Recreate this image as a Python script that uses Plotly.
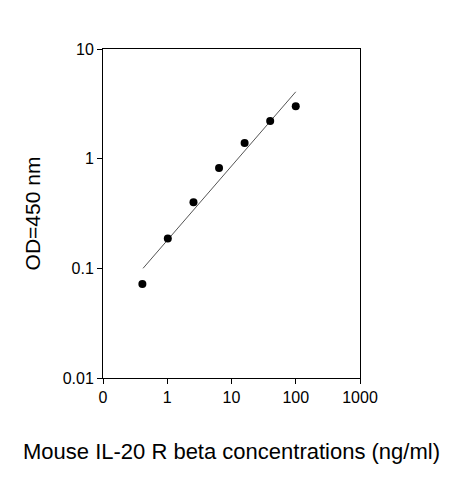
import plotly.graph_objects as go

conc = [0.41, 1.02, 2.56, 6.4, 16, 40, 100]
od = [0.072, 0.187, 0.40, 0.82, 1.39, 2.21, 3.01]
fit_x = [0.42, 100]
fit_y = [0.1, 4.07]

x_ticks = [0.1, 1, 10, 100, 1000]
x_labels = ["0", "1", "10", "100", "1000"]
y_ticks = [0.01, 0.1, 1, 10]
y_labels = ["0.01", "0.1", "1", "10"]

fig = go.Figure()
fig.add_trace(go.Scatter(x=fit_x, y=fit_y, mode="lines",
                         line=dict(color="#555555", width=1)))
fig.add_trace(go.Scatter(x=conc, y=od, mode="markers",
                         marker=dict(color="black", size=8)))

axis_style = dict(type="log", showgrid=False, zeroline=False, showline=True,
                  linecolor="black", linewidth=1, mirror=True,
                  ticks="outside", ticklen=5, tickcolor="black",
                  tickfont=dict(size=16, color="black"))

fig.update_layout(
    width=463, height=480,
    margin=dict(l=95, r=111, t=41, b=110),
    paper_bgcolor="white", plot_bgcolor="white",
    showlegend=False,
    font=dict(family="Liberation Sans, Arial", color="black"),
    xaxis=dict(axis_style, range=[-1, 3], tickvals=x_ticks, ticktext=x_labels,
               title=dict(text="Mouse IL-20 R beta concentrations (ng/ml)",
                          font=dict(size=22), standoff=38)),
    yaxis=dict(axis_style, range=[-2, 1], tickvals=y_ticks, ticktext=y_labels,
               title=dict(text="OD=450 nm", font=dict(size=21), standoff=16)),
)

fig.write_html("out.html")
